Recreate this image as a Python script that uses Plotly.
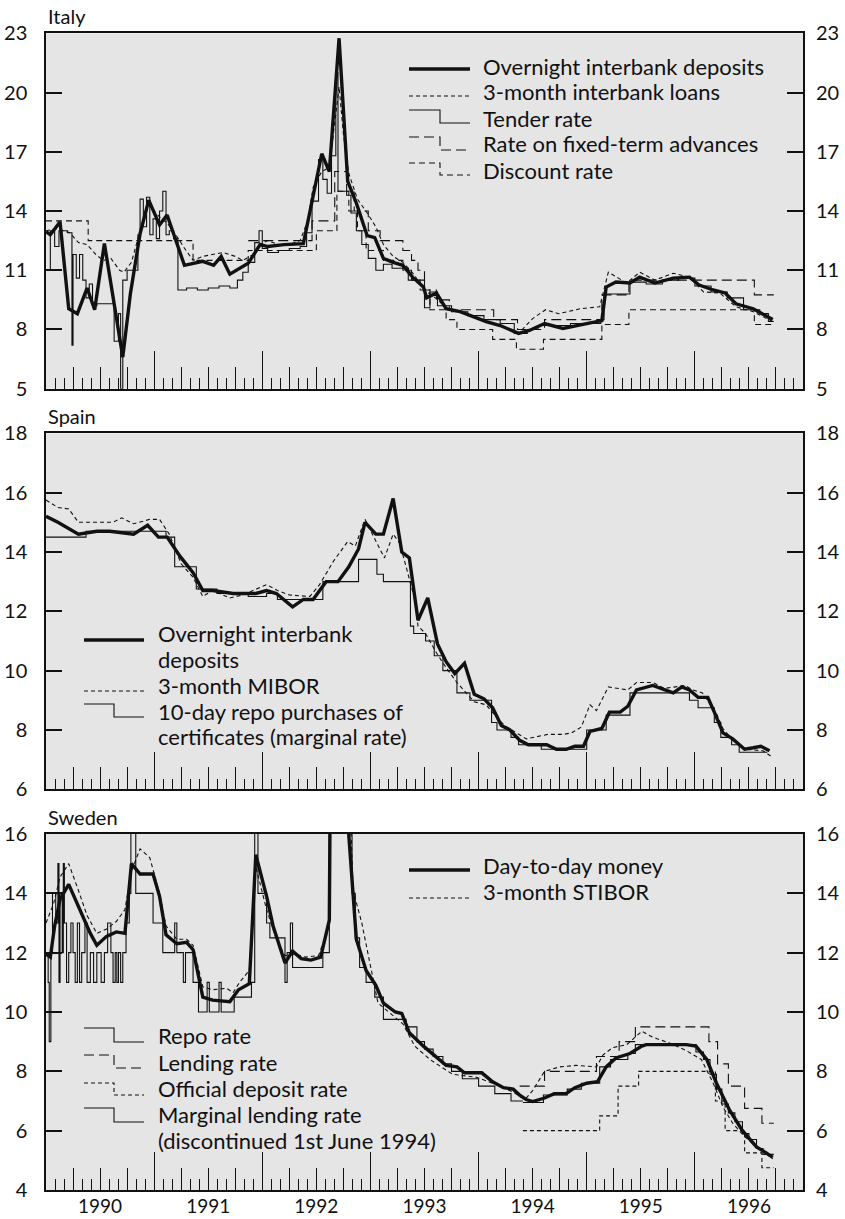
import plotly.graph_objects as go

FONT = "Lato, 'Open Sans', sans-serif"
INK = "#111111"
BG = "#e5e5e5"

YEARS = [1990, 1991, 1992, 1993, 1994, 1995, 1996]
X_START, X_END = 1990.0, 1997.0

IT_TICKS = [5, 8, 11, 14, 17, 20, 23]
ES_TICKS = [6, 8, 10, 12, 14, 16, 18]
SE_TICKS = [4, 6, 8, 10, 12, 14, 16]

# ---------------- Italy ----------------
IT_OVERNIGHT = [(1990.00, 12.95), (1990.04, 12.8), (1990.13, 13.45), (1990.21, 9.05), (1990.29, 8.8),
                (1990.38, 10.1), (1990.45, 9.0), (1990.54, 12.35), (1990.71, 6.6), (1990.78, 9.8),
                (1990.87, 12.85), (1990.95, 14.55), (1991.05, 13.3), (1991.12, 13.8), (1991.28, 11.25),
                (1991.45, 11.45), (1991.55, 11.25), (1991.62, 11.7), (1991.70, 10.8), (1991.87, 11.35),
                (1991.98, 12.3), (1992.05, 12.2), (1992.20, 12.3), (1992.38, 12.35), (1992.55, 16.9),
                (1992.62, 16.0), (1992.71, 22.75), (1992.79, 15.5), (1992.87, 14.4), (1992.97, 12.75),
                (1993.04, 12.65), (1993.12, 11.6), (1993.21, 11.4), (1993.30, 11.25), (1993.39, 10.65),
                (1993.49, 10.15), (1993.52, 9.6), (1993.61, 9.85), (1993.70, 9.05), (1993.83, 8.9),
                (1993.95, 8.65), (1994.07, 8.4), (1994.20, 8.2), (1994.37, 7.8), (1994.47, 7.95),
                (1994.61, 8.3), (1994.78, 8.05), (1994.90, 8.2), (1995.00, 8.3), (1995.14, 8.45),
                (1995.18, 10.15), (1995.27, 10.4), (1995.40, 10.35), (1995.49, 10.65), (1995.63, 10.35),
                (1995.80, 10.6), (1995.95, 10.65), (1996.04, 10.25), (1996.17, 10.0), (1996.28, 9.85),
                (1996.38, 9.3), (1996.54, 9.05), (1996.63, 8.75), (1996.72, 8.5)]

IT_3M = [(1990.00, 13.0), (1990.10, 13.1), (1990.22, 12.9), (1990.30, 12.4), (1990.38, 12.3),
         (1990.46, 11.8), (1990.53, 11.5), (1990.60, 11.6), (1990.68, 11.0), (1990.72, 10.9),
         (1990.79, 11.4), (1990.87, 13.0), (1990.95, 14.3), (1991.05, 13.7), (1991.12, 13.4),
         (1991.20, 12.8), (1991.27, 12.2), (1991.36, 11.5), (1991.45, 11.7), (1991.55, 11.8),
         (1991.64, 11.9), (1991.75, 11.7), (1991.82, 11.5), (1991.92, 11.8), (1991.98, 12.3),
         (1992.05, 12.5), (1992.15, 12.3), (1992.25, 12.3), (1992.35, 12.5), (1992.42, 13.5),
         (1992.47, 15.2), (1992.55, 16.0), (1992.62, 16.2), (1992.71, 20.3), (1992.75, 17.9),
         (1992.80, 15.9), (1992.88, 14.6), (1992.97, 13.9), (1993.05, 13.2), (1993.12, 12.3),
         (1993.21, 11.7), (1993.30, 11.4), (1993.40, 10.8), (1993.50, 10.0), (1993.60, 9.6),
         (1993.70, 9.1), (1993.83, 8.9), (1993.95, 8.7), (1994.07, 8.4), (1994.20, 8.2),
         (1994.37, 7.8), (1994.50, 8.55), (1994.62, 9.0), (1994.74, 8.8), (1994.94, 9.05),
         (1995.12, 9.15), (1995.20, 10.9), (1995.28, 10.65), (1995.37, 10.35), (1995.49, 10.9),
         (1995.63, 10.5), (1995.80, 10.85), (1995.95, 10.65), (1996.08, 9.9), (1996.23, 9.85),
         (1996.38, 9.15), (1996.54, 8.9), (1996.72, 8.4)]

IT_TENDER = [(1990.00, 11.0), (1990.04, 13.0), (1990.08, 12.2), (1990.12, 13.0), (1990.20, 12.9),
             (1990.24, 7.2), (1990.25, 11.8), (1990.28, 10.6), (1990.31, 11.8), (1990.34, 10.5),
             (1990.37, 9.6), (1990.40, 10.3), (1990.43, 9.2), (1990.47, 9.3), (1990.55, 9.3),
             (1990.63, 7.4), (1990.67, 8.8), (1990.69, 5.0), (1990.71, 10.5), (1990.75, 11.0),
             (1990.82, 11.0), (1990.85, 12.8), (1990.87, 14.6), (1990.90, 13.2), (1990.93, 14.7),
             (1990.96, 12.8), (1990.99, 13.6), (1991.02, 12.6), (1991.05, 14.0), (1991.08, 15.0),
             (1991.11, 12.8), (1991.14, 13.0), (1991.18, 12.6), (1991.22, 10.0), (1991.30, 10.1),
             (1991.40, 10.0), (1991.50, 10.1), (1991.60, 10.2), (1991.70, 10.1), (1991.77, 10.5),
             (1991.82, 10.9), (1991.87, 11.4), (1991.93, 12.4), (1991.97, 13.0), (1992.00, 12.1),
             (1992.05, 11.9), (1992.15, 12.0), (1992.25, 12.1), (1992.35, 12.2), (1992.41, 12.9),
             (1992.46, 14.5), (1992.52, 16.6), (1992.56, 15.6), (1992.60, 14.9), (1992.64, 16.8),
             (1992.68, 21.0), (1992.70, 15.0), (1992.78, 14.8), (1992.82, 13.9), (1992.87, 13.0),
             (1992.92, 12.3), (1992.98, 11.6), (1993.05, 11.0), (1993.12, 11.3), (1993.20, 11.1),
             (1993.35, 10.5), (1993.50, 9.1), (1993.55, 9.9), (1993.62, 9.2), (1993.75, 8.9),
             (1993.90, 8.7), (1994.05, 8.5), (1994.20, 8.3), (1994.33, 7.8), (1994.45, 8.0),
             (1994.55, 8.2), (1994.70, 8.2), (1994.85, 8.3), (1995.00, 8.3), (1995.13, 8.5),
             (1995.16, 9.8), (1995.40, 10.4), (1995.55, 10.3), (1995.70, 10.5), (1995.85, 10.6),
             (1996.00, 10.2), (1996.15, 9.9), (1996.30, 9.6), (1996.45, 9.0), (1996.60, 8.8),
             (1996.68, 8.4), (1996.73, 8.4)]

IT_ADVANCES = [(1991.87, 12.5), (1992.46, 13.5), (1992.67, 16.0), (1992.78, 15.0), (1992.85, 14.0),
               (1992.98, 13.0), (1993.09, 12.5), (1993.30, 12.0), (1993.38, 11.5), (1993.44, 11.0),
               (1993.50, 10.0), (1993.61, 9.5), (1993.73, 9.0), (1994.14, 8.5), (1994.36, 8.0),
               (1994.61, 8.5), (1995.14, 9.75), (1995.39, 10.5), (1996.55, 9.75), (1996.73, 9.75)]

IT_DISCOUNT = [(1990.00, 13.5), (1990.39, 12.5), (1991.36, 11.5), (1991.87, 12.0), (1992.50, 13.0),
               (1992.69, 15.0), (1992.80, 14.0), (1992.88, 13.0), (1992.96, 12.0), (1993.12, 11.5),
               (1993.30, 11.0), (1993.38, 10.5), (1993.46, 10.0), (1993.55, 9.0), (1993.70, 8.5),
               (1993.80, 8.0), (1994.13, 7.5), (1994.35, 7.0), (1994.60, 7.5), (1995.14, 8.25),
               (1995.39, 9.0), (1996.55, 8.25), (1996.73, 8.25)]

# ---------------- Spain ----------------
ES_OVERNIGHT = [(1990.00, 15.2), (1990.11, 15.0), (1990.30, 14.6), (1990.47, 14.7), (1990.59, 14.7),
                (1990.81, 14.6), (1990.94, 14.9), (1991.04, 14.5), (1991.12, 14.5), (1991.24, 13.85),
                (1991.36, 13.3), (1991.45, 12.7), (1991.54, 12.7), (1991.73, 12.6), (1991.94, 12.6),
                (1992.04, 12.7), (1992.13, 12.6), (1992.28, 12.15), (1992.38, 12.4), (1992.47, 12.4),
                (1992.59, 13.0), (1992.70, 13.0), (1992.80, 13.5), (1992.89, 14.1), (1992.95, 15.0),
                (1993.05, 14.6), (1993.12, 14.6), (1993.21, 15.8), (1993.29, 14.0), (1993.36, 13.8),
                (1993.44, 11.7), (1993.53, 12.45), (1993.62, 10.9), (1993.70, 10.3), (1993.78, 9.9),
                (1993.87, 10.25), (1993.96, 9.2), (1994.05, 9.05), (1994.13, 8.75), (1994.21, 8.15),
                (1994.29, 8.0), (1994.38, 7.65), (1994.46, 7.5), (1994.63, 7.5), (1994.72, 7.35),
                (1994.81, 7.35), (1994.89, 7.45), (1994.97, 7.45), (1995.03, 7.95), (1995.14, 8.05),
                (1995.21, 8.6), (1995.31, 8.6), (1995.38, 8.8), (1995.46, 9.35), (1995.61, 9.5),
                (1995.75, 9.3), (1995.80, 9.25), (1995.88, 9.45), (1995.95, 9.35), (1996.03, 9.1),
                (1996.12, 9.1), (1996.18, 8.6), (1996.26, 7.9), (1996.35, 7.7), (1996.46, 7.35),
                (1996.54, 7.4), (1996.61, 7.45), (1996.69, 7.3)]

ES_MIBOR = [(1990.00, 15.75), (1990.11, 15.5), (1990.21, 15.45), (1990.30, 15.0), (1990.50, 15.0),
            (1990.62, 15.0), (1990.70, 15.15), (1990.81, 14.95), (1990.96, 15.1), (1991.05, 15.1),
            (1991.14, 14.6), (1991.25, 13.6), (1991.36, 13.15), (1991.45, 12.5), (1991.54, 12.7),
            (1991.70, 12.45), (1991.82, 12.55), (1992.04, 12.9), (1992.14, 12.7), (1992.25, 12.55),
            (1992.44, 12.5), (1992.53, 12.9), (1992.66, 13.7), (1992.79, 14.35), (1992.86, 14.2),
            (1992.95, 15.1), (1993.06, 14.3), (1993.13, 13.8), (1993.21, 14.6), (1993.27, 14.3),
            (1993.33, 13.5), (1993.41, 12.4), (1993.44, 11.5), (1993.51, 11.25), (1993.61, 10.6),
            (1993.70, 10.1), (1993.80, 9.6), (1993.89, 9.25), (1993.96, 8.95), (1994.07, 8.85),
            (1994.15, 8.5), (1994.24, 8.15), (1994.35, 7.9), (1994.44, 7.7), (1994.64, 7.85),
            (1994.78, 7.85), (1994.86, 7.9), (1994.95, 8.1), (1995.03, 8.85), (1995.09, 8.65),
            (1995.20, 9.45), (1995.38, 9.35), (1995.46, 9.6), (1995.61, 9.6), (1995.72, 9.4),
            (1995.91, 9.5), (1995.98, 9.35), (1996.07, 9.25), (1996.20, 8.55), (1996.26, 8.05),
            (1996.35, 7.65), (1996.46, 7.35), (1996.63, 7.3), (1996.71, 7.1)]

ES_REPO = [(1990.00, 14.5), (1990.37, 14.7), (1991.11, 14.5), (1991.19, 13.5), (1991.39, 12.75),
           (1991.58, 12.6), (1991.87, 12.5), (1992.04, 12.6), (1992.14, 12.4), (1992.56, 13.0),
           (1992.89, 13.75), (1993.06, 13.25), (1993.12, 13.0), (1993.37, 11.5), (1993.40, 11.25),
           (1993.51, 11.0), (1993.59, 10.5), (1993.67, 10.0), (1993.80, 9.25), (1993.92, 9.0),
           (1994.12, 8.25), (1994.17, 8.0), (1994.30, 7.75), (1994.37, 7.5), (1994.58, 7.35),
           (1995.00, 8.0), (1995.18, 8.5), (1995.40, 9.25), (1995.95, 9.0), (1996.03, 8.75),
           (1996.18, 8.25), (1996.24, 7.75), (1996.34, 7.5), (1996.41, 7.25), (1996.67, 7.25)]

# ---------------- Sweden ----------------
SE_DAY = [(1990.00, 11.95), (1990.04, 11.85), (1990.08, 12.9), (1990.13, 13.8), (1990.21, 14.3),
          (1990.31, 13.45), (1990.41, 12.65), (1990.47, 12.25), (1990.56, 12.55), (1990.65, 12.7),
          (1990.73, 12.65), (1990.79, 15.0), (1990.87, 14.65), (1990.99, 14.65), (1991.05, 13.9),
          (1991.11, 12.6), (1991.21, 12.3), (1991.30, 12.35), (1991.36, 12.1), (1991.45, 10.5),
          (1991.54, 10.4), (1991.70, 10.35), (1991.78, 10.75), (1991.88, 10.95), (1991.94, 15.3),
          (1992.04, 13.9), (1992.10, 12.9), (1992.21, 11.65), (1992.28, 12.05), (1992.36, 11.8),
          (1992.45, 11.75), (1992.54, 11.85), (1992.62, 13.1), (1992.67, 40.0), (1992.75, 30.0),
          (1992.80, 15.95), (1992.87, 12.45), (1992.96, 11.4), (1993.05, 10.9), (1993.12, 10.3),
          (1993.23, 10.0), (1993.29, 9.95), (1993.36, 9.3), (1993.49, 8.85), (1993.60, 8.5),
          (1993.70, 8.2), (1993.80, 8.15), (1993.87, 7.95), (1994.03, 7.95), (1994.13, 7.65),
          (1994.23, 7.45), (1994.32, 7.4), (1994.38, 7.2), (1994.44, 7.05), (1994.50, 6.98),
          (1994.61, 7.1), (1994.70, 7.25), (1994.81, 7.25), (1994.89, 7.45), (1995.00, 7.6),
          (1995.10, 7.65), (1995.18, 8.15), (1995.27, 8.45), (1995.40, 8.6), (1995.51, 8.85),
          (1995.55, 8.9), (1995.77, 8.9), (1995.92, 8.9), (1996.01, 8.85), (1996.11, 8.4),
          (1996.20, 7.6), (1996.32, 6.7), (1996.44, 6.0), (1996.57, 5.45), (1996.66, 5.25),
          (1996.72, 5.1)]

SE_STIBOR = [(1990.00, 13.0), (1990.07, 13.65), (1990.13, 14.55), (1990.21, 15.0), (1990.30, 14.1),
             (1990.38, 13.25), (1990.47, 12.65), (1990.56, 12.8), (1990.65, 13.05), (1990.73, 13.45),
             (1990.79, 14.75), (1990.87, 15.5), (1990.96, 15.2), (1991.05, 14.0), (1991.11, 12.9),
             (1991.21, 12.45), (1991.30, 12.45), (1991.36, 12.25), (1991.45, 10.85), (1991.54, 10.75),
             (1991.67, 10.8), (1991.73, 10.65), (1991.79, 11.0), (1991.88, 11.4), (1991.94, 14.9),
             (1992.04, 13.45), (1992.13, 12.45), (1992.21, 11.9), (1992.30, 11.95), (1992.40, 11.85),
             (1992.52, 11.9), (1992.62, 12.9), (1992.66, 25.0), (1992.76, 22.0), (1992.84, 14.1),
             (1992.92, 13.0), (1993.07, 10.3), (1993.20, 9.9), (1993.30, 9.6), (1993.41, 8.85),
             (1993.55, 8.4), (1993.76, 7.9), (1993.98, 7.8), (1994.13, 7.6), (1994.32, 7.3),
             (1994.43, 7.05), (1994.50, 7.35), (1994.61, 8.0), (1994.75, 8.15), (1994.90, 8.2),
             (1995.09, 8.15), (1995.15, 8.55), (1995.24, 8.8), (1995.37, 8.9), (1995.51, 9.35),
             (1995.61, 9.15), (1995.77, 8.95), (1995.92, 8.7), (1996.06, 8.4), (1996.17, 7.6),
             (1996.26, 6.8), (1996.35, 6.25), (1996.46, 5.8), (1996.57, 5.45), (1996.64, 5.25),
             (1996.72, 5.05)]

SE_REPO = [(1994.41, 6.95), (1994.60, 7.2), (1994.82, 7.4), (1994.95, 7.6), (1995.12, 8.15),
           (1995.22, 8.4), (1995.38, 8.6), (1995.45, 8.9), (1996.01, 8.65), (1996.08, 8.4),
           (1996.14, 7.9), (1996.20, 7.4), (1996.25, 6.9), (1996.31, 6.6), (1996.37, 6.3),
           (1996.44, 5.9), (1996.50, 5.7), (1996.57, 5.4), (1996.63, 5.2), (1996.73, 5.2)]

SE_LENDING = [(1994.38, 7.5), (1994.61, 8.0), (1995.09, 8.5), (1995.30, 9.0), (1995.45, 9.5),
              (1996.13, 9.0), (1996.21, 8.25), (1996.31, 7.5), (1996.46, 6.75), (1996.62, 6.25),
              (1996.73, 6.25)]

SE_DEPOSIT = [(1994.41, 6.0), (1995.12, 6.5), (1995.29, 7.5), (1995.48, 8.0), (1996.19, 7.0),
              (1996.28, 6.0), (1996.46, 5.25), (1996.62, 4.75), (1996.73, 4.75)]

SE_MARGINAL = [(1990.00, 12), (1990.02, 11), (1990.03, 9), (1990.045, 12), (1990.06, 14), (1990.09, 13),
               (1990.11, 15), (1990.12, 11), (1990.13, 14), (1990.15, 12), (1990.16, 15), (1990.17, 13),
               (1990.19, 11), (1990.21, 12), (1990.23, 13), (1990.25, 12), (1990.27, 11), (1990.29, 13),
               (1990.31, 11), (1990.33, 12), (1990.36, 13), (1990.38, 11), (1990.41, 12), (1990.44, 11),
               (1990.47, 12), (1990.51, 11), (1990.54, 12), (1990.57, 13), (1990.60, 12), (1990.62, 11),
               (1990.64, 12), (1990.655, 11), (1990.67, 12), (1990.69, 11), (1990.71, 12), (1990.74, 13),
               (1990.77, 14), (1990.785, 18), (1990.83, 14), (1990.99, 13), (1991.08, 12), (1991.19, 13),
               (1991.21, 12), (1991.27, 11), (1991.29, 12), (1991.36, 11), (1991.41, 10), (1991.49, 11),
               (1991.51, 10), (1991.60, 11), (1991.62, 10), (1991.74, 10.5), (1991.90, 11), (1991.93, 18),
               (1991.96, 14), (1992.04, 13), (1992.07, 12.5), (1992.21, 11), (1992.23, 12), (1992.26, 13),
               (1992.28, 11.5), (1992.56, 12), (1992.62, 18), (1992.80, 16), (1992.83, 14), (1992.86, 12.5),
               (1992.90, 11.5), (1992.96, 11), (1993.04, 10.5), (1993.12, 9.75), (1993.33, 9.5),
               (1993.43, 9.0), (1993.50, 8.75), (1993.58, 8.5), (1993.67, 8.25), (1993.75, 8.0),
               (1993.85, 7.75), (1994.00, 7.5), (1994.15, 7.25), (1994.30, 7.0), (1994.41, 7.0)]

THICK, THIN = 3.4, 1.1
SHORT_DASH, MID_DASH, LONG_DASH = "4px,3px", "6px,4px", "10px,5px"

# ---------- page geometry (pixels of the 845x1219 page) ----------
PX_LEFT, PX_RIGHT, PX_TOP, PX_BOTTOM = 46, 803, 33, 1190
W = PX_RIGHT - PX_LEFT
H = PX_BOTTOM - PX_TOP


def px_x(v):
    return (v - PX_LEFT) / W


def px_y(v):
    return (PX_BOTTOM - v) / H


fig = go.Figure()


def add_line(pairs, xa, ya, width=THIN, dash="solid", step=False):
    xs = [p[0] for p in pairs]
    ys = [p[1] for p in pairs]
    fig.add_trace(go.Scatter(
        x=xs, y=ys, mode="lines", xaxis=xa, yaxis=ya, showlegend=False,
        line=dict(color=INK, width=width, dash=dash, shape="hv" if step else "linear"),
        hoverinfo="skip"))


# Italy (thin first, thick on top)
add_line(IT_DISCOUNT, "x", "y", dash=MID_DASH, step=True)
add_line(IT_ADVANCES, "x", "y", dash=LONG_DASH, step=True)
add_line(IT_TENDER, "x", "y", step=True)
add_line(IT_3M, "x", "y", dash=SHORT_DASH)
add_line(IT_OVERNIGHT, "x", "y", width=THICK)
# Spain
add_line(ES_REPO, "x3", "y3", step=True)
add_line(ES_MIBOR, "x3", "y3", dash=SHORT_DASH)
add_line(ES_OVERNIGHT, "x3", "y3", width=THICK)
# Sweden
add_line(SE_MARGINAL, "x5", "y5", step=True)
add_line(SE_DEPOSIT, "x5", "y5", dash=SHORT_DASH, step=True)
add_line(SE_LENDING, "x5", "y5", dash=LONG_DASH, step=True)
add_line(SE_REPO, "x5", "y5", step=True)
add_line(SE_STIBOR, "x5", "y5", dash=SHORT_DASH)
add_line(SE_DAY, "x5", "y5", width=THICK)

# empty traces so that the overlay axes (quarter ticks, right-hand labels) get drawn
for xa, ya in (("x2", "y"), ("x", "y2"), ("x4", "y3"), ("x3", "y4"), ("x6", "y5"), ("x5", "y6")):
    fig.add_trace(go.Scatter(x=[None], y=[None], xaxis=xa, yaxis=ya, mode="lines",
                             showlegend=False, hoverinfo="skip"))

DOMAINS = {
    "it": [px_y(388.7), px_y(33.3)],
    "es": [px_y(789.3), px_y(433.3)],
    "se": [px_y(1190), px_y(834)],
}

year_bounds = YEARS + [YEARS[-1] + 1]
quarters = [y + q / 4 for y in YEARS for q in (1, 2, 3)]


def main_x(anchor):
    return dict(range=[X_START, X_END], anchor=anchor, domain=[0, 1], automargin=False,
                tickmode="array", tickvals=year_bounds, ticks="inside", ticklen=38,
                tickwidth=1.3, tickcolor=INK, showticklabels=False,
                showline=True, linecolor=INK, linewidth=1.5, mirror=True,
                showgrid=False, zeroline=False,
                minor=dict(tick0=1990, dtick=1 / 12, ticks="inside", ticklen=11,
                           tickwidth=1.1, tickcolor=INK, showgrid=False))


def quarter_x(overlay, anchor, labels):
    text = [str(int(q)) if labels and abs(q - int(q) - 0.5) < 1e-6 else "" for q in quarters]
    return dict(range=[X_START, X_END], overlaying=overlay, anchor=anchor, side="bottom",
                automargin=False,
                tickmode="array", tickvals=quarters, ticktext=text,
                ticks="inside", ticklen=22, tickwidth=1.2, tickcolor=INK,
                showticklabels=labels, showline=False, showgrid=False, zeroline=False,
                ticklabelstandoff=3,
                tickfont=dict(family=FONT, size=19, color=INK))


def left_y(dom, rng, vals, anchor):
    return dict(domain=dom, range=rng, anchor=anchor, tickmode="array", tickvals=vals,
                automargin=False,
                ticks="inside", ticklen=16, tickwidth=2, tickcolor=INK,
                showline=True, linecolor=INK, linewidth=1.5, mirror=True,
                showgrid=False, zeroline=False, ticklabelstandoff=13,
                tickfont=dict(family=FONT, size=20, color=INK))


def right_y(overlay, rng, vals, anchor):
    return dict(overlaying=overlay, side="right", range=rng, anchor=anchor,
                automargin=False, tickmode="array", tickvals=vals,
                ticks="inside", ticklen=16, tickwidth=2, tickcolor=INK,
                showline=False, showgrid=False, zeroline=False, ticklabelstandoff=12,
                tickfont=dict(family=FONT, size=20, color=INK))


fig.update_layout(
    width=845, height=1219,
    margin=dict(l=PX_LEFT, r=845 - PX_RIGHT, t=PX_TOP, b=1219 - PX_BOTTOM),
    paper_bgcolor="white", plot_bgcolor=BG,
    font=dict(family=FONT, size=19, color=INK),
    showlegend=False,
    xaxis=main_x("y"), xaxis2=quarter_x("x", "y", False),
    xaxis3=main_x("y3"), xaxis4=quarter_x("x3", "y3", False),
    xaxis5=main_x("y5"), xaxis6=quarter_x("x5", "y5", True),
    yaxis=left_y(DOMAINS["it"], [5, 23], IT_TICKS, "x"),
    yaxis2=right_y("y", [5, 23], IT_TICKS, "x"),
    yaxis3=left_y(DOMAINS["es"], [6, 18], ES_TICKS, "x3"),
    yaxis4=right_y("y3", [6, 18], ES_TICKS, "x3"),
    yaxis5=left_y(DOMAINS["se"], [4, 16], SE_TICKS, "x5"),
    yaxis6=right_y("y5", [4, 16], SE_TICKS, "x5"),
)

# panel titles
for title, dom in (("Italy", DOMAINS["it"]), ("Spain", DOMAINS["es"]), ("Sweden", DOMAINS["se"])):
    fig.add_annotation(text=title, xref="paper", yref="paper", x=0, y=dom[1],
                       xanchor="left", yanchor="bottom", showarrow=False, yshift=3,
                       font=dict(family=FONT, size=20, color=INK))

# ---------- hand-drawn legends (key glyphs + text), positions in page pixels ----------
LEG_FONT = dict(family=FONT, size=22, color=INK)


def key_text(lines, x, y_first, gap=26):
    for i, t in enumerate(lines):
        fig.add_annotation(text=t, xref="paper", yref="paper", x=px_x(x), y=px_y(y_first + i * gap),
                           xanchor="left", yanchor="middle", showarrow=False, font=LEG_FONT,
                           borderpad=0)


def key_flat(x0, x1, y, width, dash):
    fig.add_shape(type="line", xref="paper", yref="paper",
                  x0=px_x(x0), x1=px_x(x1), y0=px_y(y), y1=px_y(y),
                  line=dict(color=INK, width=width, dash=dash))


def key_step(x0, xm, x1, ytop, ybot, dash):
    path = "M{:.5f},{:.5f} H{:.5f} V{:.5f} H{:.5f}".format(
        px_x(x0), px_y(ytop), px_x(xm), px_y(ybot), px_x(x1))
    fig.add_shape(type="path", xref="paper", yref="paper", path=path,
                  line=dict(color=INK, width=THIN, dash=dash))


# Italy
key_flat(409, 470, 69, THICK, "solid");          key_text(["Overnight interbank deposits"], 482, 66)
key_flat(409, 470, 96, THIN, SHORT_DASH);        key_text(["3-month interbank loans"], 482, 92)
key_step(409, 440, 470, 110, 123, "solid");      key_text(["Tender rate"], 482, 118)
key_step(409, 440, 470, 137, 150, LONG_DASH);    key_text(["Rate on fixed-term advances"], 482, 144)
key_step(409, 440, 470, 163, 175, MID_DASH);     key_text(["Discount rate"], 482, 170)

# Spain
key_flat(84, 144, 640, THICK, "solid");          key_text(["Overnight interbank", "deposits"], 157, 633)
key_flat(84, 144, 691, THIN, SHORT_DASH);        key_text(["3-month MIBOR"], 157, 685)
key_step(84, 114, 144, 704, 717, "solid");       key_text(["10-day repo purchases of", "certificates (marginal rate)"], 157, 711)

# Sweden (upper key)
key_flat(409, 470, 870, THICK, "solid");         key_text(["Day-to-day money"], 482, 865)
key_flat(409, 470, 898, THIN, SHORT_DASH);       key_text(["3-month STIBOR"], 482, 891)

# Sweden (lower key)
key_step(84, 114, 144, 1028, 1042, "solid");     key_text(["Repo rate"], 157, 1035)
key_step(84, 114, 144, 1055, 1068, LONG_DASH);   key_text(["Lending rate"], 157, 1062)
key_step(84, 114, 144, 1083, 1095, SHORT_DASH);  key_text(["Official deposit rate"], 157, 1088)
key_step(84, 114, 144, 1108, 1122, "solid");     key_text(["Marginal lending rate", "(discontinued 1st June 1994)"], 157, 1114)

fig.write_html("out.html", config={"displayModeBar": False},
               post_script="document.body.style.margin='0px';")
